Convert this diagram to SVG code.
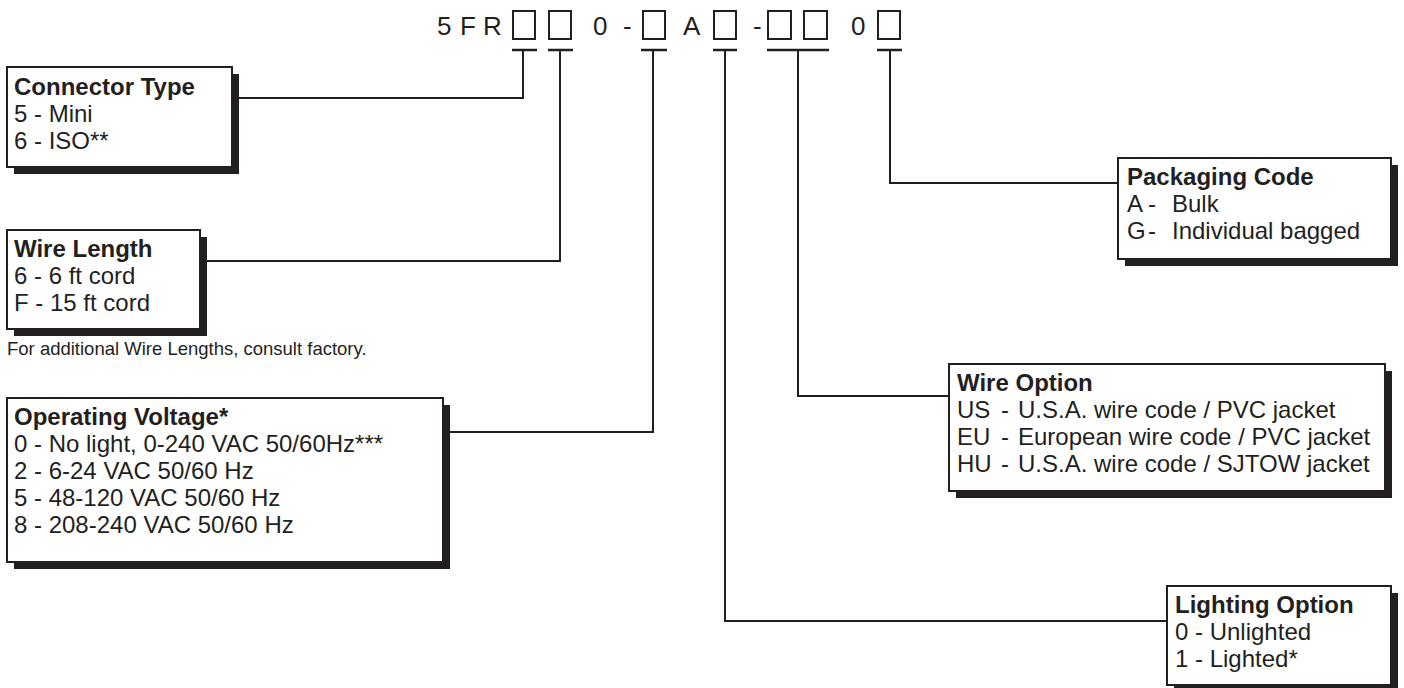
<svg xmlns="http://www.w3.org/2000/svg" width="1404" height="688" viewBox="0 0 1404 688">
<style>
text{font-family:"Liberation Sans",Arial,sans-serif;fill:#231f20;font-size:24px}
.t{font-weight:bold}
.code{font-size:26px}
.note{font-size:18.5px}
.box{fill:#fff;stroke:#231f20;stroke-width:2}
.sh{fill:#231f20}
.cn{fill:none;stroke:#231f20;stroke-width:2}
.slot{fill:none;stroke:#231f20;stroke-width:2}
.bar{stroke:#231f20;stroke-width:2.5}
</style>
<rect width="1404" height="688" fill="#fff"/>
<g id="partnumber">
<text class="code" x="437" y="35">5</text>
<text class="code" x="460" y="35">F</text>
<text class="code" x="483" y="35">R</text>
<text class="code" x="593" y="35">0</text>
<text class="code" x="623" y="35">-</text>
<text class="code" x="683" y="35">A</text>
<text class="code" x="753" y="35">-</text>
<text class="code" x="851" y="35">0</text>
<rect class="slot" x="513" y="11" width="22" height="28"/>
<rect class="slot" x="549" y="11" width="22" height="28"/>
<rect class="slot" x="643" y="11" width="22" height="28"/>
<rect class="slot" x="714" y="11" width="22" height="28"/>
<rect class="slot" x="768" y="11" width="23" height="28"/>
<rect class="slot" x="804" y="11" width="23" height="28"/>
<rect class="slot" x="878" y="11" width="22" height="28"/>
<line class="bar" x1="512" y1="50" x2="537" y2="50"/>
<line class="bar" x1="548" y1="50" x2="573" y2="50"/>
<line class="bar" x1="641" y1="50" x2="667" y2="50"/>
<line class="bar" x1="713" y1="50" x2="737" y2="50"/>
<line class="bar" x1="767" y1="50" x2="829" y2="50"/>
<line class="bar" x1="877" y1="50" x2="902" y2="50"/>
</g>
<g id="connectors">
<path class="cn" d="M232,98 H523 V50"/>
<path class="cn" d="M200,261 H560 V50"/>
<path class="cn" d="M443,432 H653 V50"/>
<path class="cn" d="M725,50 V621 H1167"/>
<path class="cn" d="M798,50 V396 H949"/>
<path class="cn" d="M890,50 V183 H1118"/>
</g>
<g id="connector-type">
<rect class="sh" x="14" y="74" width="225" height="100"/>
<rect class="box" x="7" y="67" width="225" height="100"/>
<text class="t" x="14" y="95">Connector Type</text>
<text x="14" y="122">5 - Mini</text>
<text x="14" y="149">6 - ISO**</text>
</g>
<g id="wire-length">
<rect class="sh" x="14" y="237" width="193" height="99"/>
<rect class="box" x="7" y="230" width="193" height="99"/>
<text class="t" x="14" y="257">Wire Length</text>
<text x="14" y="284">6 - 6 ft cord</text>
<text x="14" y="311">F - 15 ft cord</text>
<text class="note" x="7" y="355">For additional Wire Lengths, consult factory.</text>
</g>
<g id="operating-voltage">
<rect class="sh" x="14" y="405" width="436" height="164"/>
<rect class="box" x="7" y="398" width="436" height="164"/>
<text class="t" x="14" y="425">Operating Voltage*</text>
<text x="14" y="452">0 - No light, 0-240 VAC 50/60Hz***</text>
<text x="14" y="479">2 - 6-24 VAC 50/60 Hz</text>
<text x="14" y="506">5 - 48-120 VAC 50/60 Hz</text>
<text x="14" y="533">8 - 208-240 VAC 50/60 Hz</text>
</g>
<g id="packaging-code">
<rect class="sh" x="1125" y="165" width="273" height="101"/>
<rect class="box" x="1118" y="158" width="273" height="101"/>
<text class="t" x="1127" y="185">Packaging Code</text>
<text x="1127" y="212">A<tspan x="1148">-</tspan><tspan x="1172">Bulk</tspan></text>
<text x="1127" y="239">G<tspan x="1148">-</tspan><tspan x="1172">Individual bagged</tspan></text>
</g>
<g id="wire-option">
<rect class="sh" x="956" y="371" width="436" height="127"/>
<rect class="box" x="949" y="364" width="436" height="127"/>
<text class="t" x="957" y="391">Wire Option</text>
<text x="957" y="418">US<tspan x="1001">-</tspan><tspan x="1018">U.S.A. wire code / PVC jacket</tspan></text>
<text x="957" y="445">EU<tspan x="1001">-</tspan><tspan x="1018">European wire code / PVC jacket</tspan></text>
<text x="957" y="472">HU<tspan x="1001">-</tspan><tspan x="1018">U.S.A. wire code / SJTOW jacket</tspan></text>
</g>
<g id="lighting-option">
<rect class="sh" x="1174" y="593" width="224" height="99"/>
<rect class="box" x="1167" y="586" width="224" height="99"/>
<text class="t" x="1175" y="613">Lighting Option</text>
<text x="1175" y="640">0 - Unlighted</text>
<text x="1175" y="667">1 - Lighted*</text>
</g>
</svg>
